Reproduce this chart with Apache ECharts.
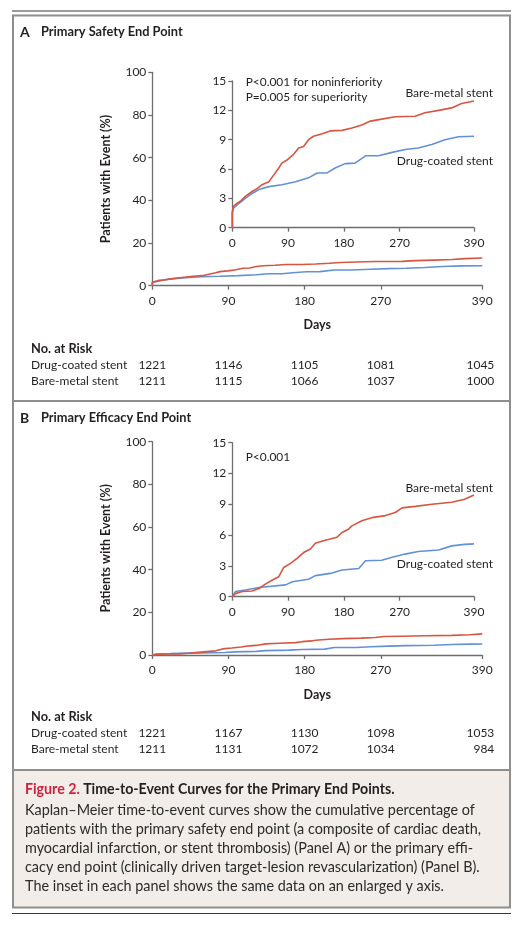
<!DOCTYPE html>
<html>
<head>
<meta charset="utf-8">
<script src="https://cdn.jsdelivr.net/npm/echarts@6/dist/echarts.min.js"></script>
<style>
  html, body { margin: 0; padding: 0; background: #fff; }
  #main { width: 525px; height: 925px; }
</style>
</head>
<body>
<div id="main"></div>
<script>
// x ticks used by every axis and the risk tables
var dayTicks = [0, 90, 180, 270, 390];

// panel A - primary safety end point, [day, percent]
var safetyBare = [[0, 0], [0, 1.6], [2, 2.2], [8, 2.5], [13, 2.7], [21, 3.2], [32, 3.7], [40, 4.0],
  [48, 4.4], [59, 4.7], [67, 5.4], [75, 6.1], [80, 6.6], [89, 6.95], [99, 7.5], [107, 8.15],
  [115, 8.3], [123, 9.0], [131, 9.35], [145, 9.6], [158, 9.9], [177, 9.95], [193, 10.2],
  [209, 10.5], [223, 10.9], [241, 11.1], [263, 11.35], [295, 11.4], [311, 11.75], [333, 12.0],
  [354, 12.25], [370, 12.7], [390, 12.95]];
var safetyDrug = [[0, 0], [0, 1.5], [2, 2.0], [11, 2.5], [21, 3.0], [32, 3.5], [43, 3.9], [59, 4.2],
  [80, 4.4], [102, 4.7], [123, 5.1], [137, 5.6], [153, 5.6], [166, 6.1], [182, 6.55], [198, 6.6],
  [215, 7.35], [236, 7.35], [258, 7.7], [279, 8.0], [300, 8.15], [322, 8.5], [343, 9.0],
  [365, 9.3], [390, 9.35]];

// panel B - primary efficacy end point
var efficacyBare = [[0, 0], [5, 0.3], [16, 0.5], [32, 0.55], [43, 0.8], [54, 1.25], [64, 1.6],
  [75, 1.95], [83, 2.85], [94, 3.25], [105, 3.75], [115, 4.3], [126, 4.65], [134, 5.2],
  [150, 5.5], [169, 5.8], [177, 6.25], [188, 6.6], [193, 6.9], [209, 7.4], [225, 7.7],
  [247, 7.9], [263, 8.2], [274, 8.65], [295, 8.8], [322, 9.0], [354, 9.2], [375, 9.5], [390, 9.9]];
var efficacyDrug = [[0, 0], [5, 0.5], [21, 0.65], [43, 0.9], [86, 1.15], [97, 1.45], [123, 1.7],
  [134, 2.05], [161, 2.3], [177, 2.6], [204, 2.75], [215, 3.5], [241, 3.55], [258, 3.85],
  [279, 4.15], [300, 4.4], [333, 4.55], [354, 4.95], [375, 5.1], [390, 5.15]];

// numbers at risk
var riskSafetyDrug = [1221, 1146, 1105, 1081, 1045];
var riskSafetyBare = [1211, 1115, 1066, 1037, 1000];
var riskEfficacyDrug = [1221, 1167, 1130, 1098, 1053];
var riskEfficacyBare = [1211, 1131, 1072, 1034, 984];

var captionLines = [
  'Kaplan\u2013Meier time-to-event curves show the cumulative percentage of',
  'patients with the primary safety end point (a composite of cardiac death,',
  'myocardial infarction, or stent thrombosis) (Panel A) or the primary effi-',
  'cacy end point (clinically driven target-lesion revascularization) (Panel B).',
  'The inset in each panel shows the same data on an enlarged y axis.'
];

var RED = '#d75641', BLUE = '#6391d6', AXIS = '#6e6e6e', INK = '#231f20';
var FONT = 'Lato';

var myChart = echarts.init(document.getElementById('main'));

function xAx(grid, margin, name) {
    return {
        gridIndex: grid, type: 'value', min: 0, max: 390,
        name: name || '', nameLocation: 'middle', nameGap: 33,
        nameTextStyle: { fontFamily: FONT, fontWeight: 'bold', fontSize: 12.5, color: INK },
        axisLine: { show: true, lineStyle: { color: AXIS, width: 1.3 } },
        axisTick: { show: true, length: 4, customValues: dayTicks, lineStyle: { color: AXIS, width: 1.3 } },
        axisLabel: { customValues: dayTicks, margin: 9, fontFamily: FONT, fontSize: 12, color: INK },
        splitLine: { show: false }
    };
}
function yAx(grid, max, step, name) {
    return {
        gridIndex: grid, type: 'value', min: 0, max: max, interval: step,
        name: name || '', nameLocation: 'middle', nameGap: 40, nameRotate: 90,
        nameTextStyle: { fontFamily: FONT, fontWeight: 'bold', fontSize: 12.5, color: INK },
        axisLine: { show: true, lineStyle: { color: AXIS, width: 1.3 } },
        axisTick: { show: true, length: 4, lineStyle: { color: AXIS, width: 1.3 } },
        axisLabel: { margin: 6, fontFamily: FONT, fontSize: 12, color: INK },
        splitLine: { show: false }
    };
}
function curve(x, data, color) {
    return {
        type: 'line', xAxisIndex: x, yAxisIndex: x, data: data, showSymbol: false,
        silent: true, lineStyle: { color: color, width: 1.6 }, z: 3
    };
}
function txt(x, y, s, size, weight, align, color) {
    return {
        type: 'text', x: x, y: y, silent: true, z: 10,
        style: { text: s, fontFamily: FONT, fontSize: size, fontWeight: weight || 'normal',
                 fill: color || INK, align: align || 'left', verticalAlign: 'middle' }
    };
}

option = {
    animation: false,
    grid: [
        { left: 152.3, top: 72.3, width: 330, height: 213.4, outerBoundsMode: 'none' },
        { left: 232.3, top: 81, width: 241.7, height: 146.7, outerBoundsMode: 'none' },
        { left: 152.3, top: 441.7, width: 330, height: 213.3, outerBoundsMode: 'none' },
        { left: 232.3, top: 442.7, width: 241.7, height: 154, outerBoundsMode: 'none' }
    ],
    xAxis: [xAx(0, 9, 'Days'), xAx(1, 8), xAx(2, 9, 'Days'), xAx(3, 8)],
    yAxis: [yAx(0, 100, 20, 'Patients with Event (%)'), yAx(1, 15, 3),
            yAx(2, 100, 20, 'Patients with Event (%)'), yAx(3, 15, 3)],
    series: [
        curve(0, safetyDrug, BLUE), curve(0, safetyBare, RED),
        curve(1, safetyDrug, BLUE), curve(1, safetyBare, RED),
        curve(2, efficacyDrug, BLUE), curve(2, efficacyBare, RED),
        curve(3, efficacyDrug, BLUE), curve(3, efficacyBare, RED)
    ]
};
myChart.setOption(option);

// frame, separators, caption background
var g = [
    { type: 'rect', shape: { x: 12, y: 10, width: 499, height: 2 }, style: { fill: '#9a9a9a' }, silent: true },
    { type: 'rect', shape: { x: 14, y: 771, width: 495, height: 136 }, style: { fill: '#f2ede8' }, silent: true, z: -1 },
    { type: 'rect', shape: { x: 13, y: 15.5, width: 497, height: 892 }, style: { fill: null, stroke: '#8e8e8e', lineWidth: 2 }, silent: true },
    { type: 'line', shape: { x1: 13, y1: 401, x2: 510, y2: 401 }, style: { stroke: '#8e8e8e', lineWidth: 2 }, silent: true },
    { type: 'line', shape: { x1: 13, y1: 770, x2: 510, y2: 770 }, style: { stroke: '#8e8e8e', lineWidth: 2 }, silent: true },
    { type: 'line', shape: { x1: 12, y1: 913.5, x2: 511, y2: 913.5 }, style: { stroke: '#3a3a3a', lineWidth: 1 }, silent: true },

    txt(20, 32, 'A', 14, 'bold'),
    txt(41, 32, 'Primary Safety End Point', 12.8, 'bold'),
    txt(20, 418, 'B', 14, 'bold'),
    txt(41, 418, 'Primary Efficacy End Point', 12.8, 'bold'),

    txt(245.7, 82, 'P<0.001 for noninferiority', 11.9),
    txt(245.7, 97, 'P=0.005 for superiority', 11.9),
    txt(493, 93, 'Bare-metal stent', 12, 'normal', 'right'),
    txt(493, 161, 'Drug-coated stent', 12, 'normal', 'right'),

    txt(245.7, 457, 'P<0.001', 11.9),
    txt(493, 488.5, 'Bare-metal stent', 12, 'normal', 'right'),
    txt(493, 564.5, 'Drug-coated stent', 12, 'normal', 'right'),

    {
        type: 'text', x: 25, y: 789, silent: true, z: 10,
        style: {
            text: '{r|Figure 2.} {b|Time-to-Event Curves for the Primary End Points.}',
            verticalAlign: 'middle',
            rich: {
                r: { fontFamily: FONT, fontSize: 14.2, fontWeight: 'bold', fill: '#d21f3c' },
                b: { fontFamily: FONT, fontSize: 14.2, fontWeight: 'bold', fill: INK }
            }
        }
    }
];
captionLines.forEach(function (s, i) {
    g.push(txt(25, 810.7 + i * 19, s, 14.4, 'normal', 'left', '#2b2b2b'));
});

// risk tables, numbers placed under the day ticks of each panel's main axis
function riskTable(grid, y0, drug, bare) {
    g.push(txt(31, y0, 'No. at Risk', 12.8, 'bold'));
    g.push(txt(31, y0 + 16, 'Drug-coated stent', 12));
    g.push(txt(31, y0 + 32, 'Bare-metal stent', 12));
    dayTicks.forEach(function (d, i) {
        var px = myChart.convertToPixel({ gridIndex: grid }, [d, 0])[0];
        var last = i === dayTicks.length - 1;
        var x = last ? px + 12 : px;
        var al = last ? 'right' : 'center';
        g.push(txt(x, y0 + 16, String(drug[i]), 12, 'normal', al));
        g.push(txt(x, y0 + 32, String(bare[i]), 12, 'normal', al));
    });
}
riskTable(0, 349.3, riskSafetyDrug, riskSafetyBare);
riskTable(2, 716.7, riskEfficacyDrug, riskEfficacyBare);

myChart.setOption({ graphic: g });
</script>
</body>
</html>
